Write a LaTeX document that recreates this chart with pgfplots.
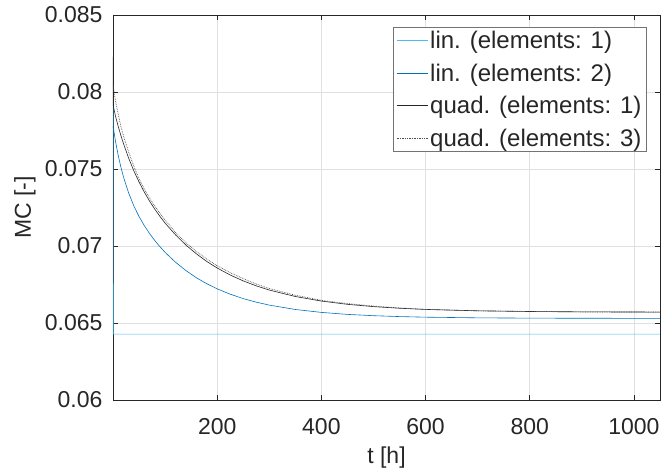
\documentclass[border=0pt]{standalone}
\usepackage{fontspec}
\setmainfont{Liberation Sans}
\usepackage{pgfplots}
\pgfplotsset{compat=1.18}
\definecolor{linone}{rgb}{0.30,0.745,0.933}
\definecolor{lintwo}{rgb}{0,0.447,0.741}
\definecolor{axgray}{rgb}{0.15,0.15,0.15}
\begin{document}
\begin{tikzpicture}[x=1pt,y=1pt]
\useasboundingbox (-113,-71) rectangle (549,400);
\begin{axis}[at={(0,0)}, anchor=south west, scale only axis,
  width=547pt, height=385pt,
  xmin=0, xmax=1050, ymin=0.06, ymax=0.085,
  scaled y ticks=false, scaled x ticks=false,
  xtick={200,400,600,800,1000},
  xticklabels={200,400,600,800,1000},
  ytick={0.06,0.065,0.07,0.075,0.08,0.085},
  yticklabels={0.06,0.065,0.07,0.075,0.08,0.085},
  tick align=inside, major tick length=5pt,
  grid=major, grid style={black!12, line width=0.8pt},
  axis line style={axgray, line width=0.8pt},
  tick style={axgray, line width=0.8pt},
  ticklabel style={font=\fontsize{23}{27}\selectfont, text=axgray},
  label style={font=\fontsize{23}{27}\selectfont, text=axgray},
  xticklabel style={yshift=-15pt},
  yticklabel style={xshift=-7pt},
  xlabel={t [h]}, ylabel={MC [-]},
  xlabel style={at={(axis description cs:0.5,-0.149)}, anchor=center},
  ylabel style={at={(axis description cs:-0.161,0.5)}, anchor=center},
  legend style={at={(0.976,0.969)}, anchor=north east,
    font=\fontsize{24}{28}\selectfont, text=black!85,
    draw=black!55, line width=0.8pt, inner xsep=3pt, inner ysep=2pt,
    row sep=9.6pt, cells={anchor=west}},
  legend image code/.code={\draw[#1, line width=1pt] (0pt,0pt) -- (31pt,0pt);},
]
\addplot[linone, line width=0.6pt] coordinates {
(0,0.0790)(0.5,0.06428)(1050,0.06428)};
\addlegendentry{lin. (elements: 1)}
\addplot[color=lintwo, line width=0.6pt,
  legend image code/.code={\draw[draw=lintwo, line width=1.1pt] (0pt,0pt) -- (31pt,0pt);}] coordinates {
(0,0.0778)(5,0.076764)(10,0.075889)(15,0.075143)(20,0.074499)(30,0.073442)
(40,0.072604)(50,0.071914)(60,0.071328)(70,0.070817)(80,0.070364)(90,0.069958)
(100,0.069588)(120,0.068946)(140,0.068403)(160,0.067941)(180,0.067551)
(200,0.067218)(225,0.06687)(250,0.066585)(275,0.066353)(300,0.066162)
(350,0.065878)(400,0.065688)(450,0.065559)(500,0.065474)(550,0.065417)
(600,0.065378)(700,0.065335)(800,0.065316)(900,0.065307)(1050,0.065302)};
\addlegendentry{lin. (elements: 2)}
\addplot[black!85, line width=0.6pt] coordinates {
(0,0.0823)(0.5,0.0791)(5,0.078404)(10,0.077771)(15,0.077189)(20,0.076662)
(30,0.075709)(40,0.074881)(50,0.074155)(60,0.073507)(70,0.072924)(80,0.072405)
(90,0.071928)(100,0.071488)(120,0.070724)(140,0.070061)(160,0.069493)
(180,0.068995)(200,0.068571)(225,0.068115)(250,0.067733)(275,0.067411)
(300,0.067140)(350,0.066720)(400,0.066423)(450,0.066212)(500,0.066063)
(550,0.065957)(600,0.065882)(700,0.065791)(800,0.065746)(900,0.065723)
(1050,0.065708)};
\addlegendentry{quad. (elements: 1)}
\addplot[black!70, line width=0.7pt, densely dotted] coordinates {
(0,0.0805)(5,0.0794)(10,0.07857)(15,0.07779)(20,0.07716)(30,0.07611)
(40,0.07518)(50,0.07436)(60,0.07371)(70,0.07312)(80,0.07260)(90,0.07213)
(100,0.07169)(120,0.07087)(140,0.07021)(160,0.06964)(180,0.06915)
(200,0.06872)(225,0.06827)(250,0.06788)(275,0.06753)(300,0.06724)
(350,0.06680)(400,0.06647)(450,0.06626)(500,0.06610)(550,0.06598)
(600,0.06588)(700,0.06579)(800,0.06575)(900,0.06572)(1050,0.06571)};
\addlegendentry{quad. (elements: 3)}
\end{axis}
\end{tikzpicture}
\end{document}
